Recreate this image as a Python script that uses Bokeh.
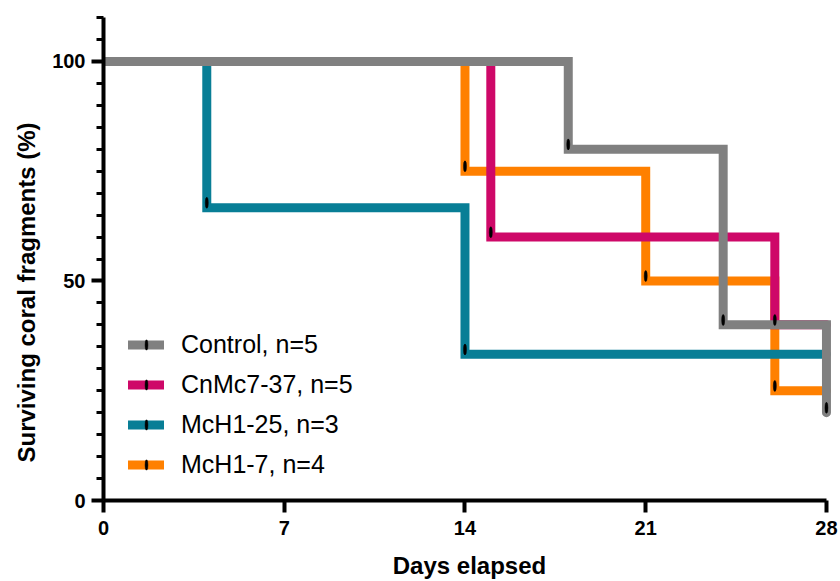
import math
from bokeh.plotting import figure
from bokeh.models import Range1d, FixedTicker, Legend, LegendItem, Title
from bokeh.embed import file_html
from bokeh.resources import INLINE

# ---- data (Kaplan-Meier steps) ----
groups = ["Control, n=5", "CnMc7-37, n=5", "McH1-25, n=3", "McH1-7, n=4"]
control_days = [0, 18, 24, 28]
control_surv = [100, 80, 40, 20]
cnmc_days = [0, 15, 26]
cnmc_surv = [100, 60, 40]
mch125_days = [0, 4, 14]
mch125_surv = [100, 66.7, 33.3]
mch17_days = [0, 14, 21, 26]
mch17_surv = [100, 75, 50, 25]
end_day = 28
x_ticks = [0, 7, 14, 21, 28]
y_ticks = [0, 50, 100]
y_minor = list(range(0, 111, 5))

colors = {
    "Control, n=5": "#808080",
    "CnMc7-37, n=5": "#CE0868",
    "McH1-25, n=3": "#087E96",
    "McH1-7, n=4": "#FF8000",
}
series = {
    "Control, n=5": (control_days, control_surv),
    "CnMc7-37, n=5": (cnmc_days, cnmc_surv),
    "McH1-25, n=3": (mch125_days, mch125_surv),
    "McH1-7, n=4": (mch17_days, mch17_surv),
}

FONT = "Liberation Sans"

p = figure(width=840, height=581, output_backend="svg", toolbar_location=None,
           x_range=Range1d(0, 28.35), y_range=Range1d(0, 110),
           min_border_left=102, min_border_right=5, min_border_top=17, min_border_bottom=81)
p.outline_line_color = None
p.xgrid.grid_line_color = None
p.ygrid.grid_line_color = None
p.background_fill_color = "white"
p.border_fill_color = "white"

draw_order = ["McH1-7, n=4", "CnMc7-37, n=5", "McH1-25, n=3", "Control, n=5"]
step_r = {}
for g in draw_order:
    d, s = series[g]
    xs = list(d)
    ys = list(s)
    if xs[-1] < end_day:
        xs.append(end_day)
        ys.append(s[-1])
    step_r[g] = p.step(xs, ys, mode="after", line_color=colors[g], line_width=9,
                       line_join="miter", line_cap="round")

# censor ticks: narrow vertical ellipses (keep their shape in the legend too)
tick_r = {}
for g in draw_order:
    d, s = series[g]
    cx = d[1:]
    cy = [v + 1.1 for v in s[1:]]
    tick_r[g] = p.ellipse(x=cx, y=cy, width=3, height=11, width_units="screen",
                          height_units="screen", fill_color="black", line_color="black",
                          line_width=0.5)

items = [LegendItem(label=g, renderers=[step_r[g], tick_r[g]]) for g in groups]
legend = Legend(items=items, location=(25, 21), glyph_width=36, glyph_height=13,
                spacing=11, padding=0, margin=0, label_standoff=17,
                label_text_font=FONT, label_text_font_size="25px",
                label_text_color="black", border_line_color=None,
                background_fill_alpha=0)
p.add_layout(legend)

for ax in (p.xaxis[0], p.yaxis[0]):
    ax.axis_line_width = 4
    ax.axis_line_color = "black"
    ax.major_tick_line_width = 4
    ax.major_tick_line_color = "black"
    ax.major_tick_out = 12
    ax.major_tick_in = 0
    ax.major_label_text_font = FONT
    ax.major_label_text_font_size = "20px"
    ax.major_label_text_font_style = "bold"
    ax.major_label_text_color = "black"

p.xaxis.ticker = FixedTicker(ticks=x_ticks)
p.xaxis.bounds = (0, 28)
p.xaxis.minor_tick_line_color = None
p.xaxis.major_label_standoff = 8
p.xaxis.axis_label = "Days elapsed"
p.xaxis.axis_label_text_font = FONT
p.xaxis.axis_label_text_font_size = "24px"
p.xaxis.axis_label_text_font_style = "bold"
p.xaxis.axis_label_text_color = "black"
p.xaxis.axis_label_standoff = 14

p.yaxis.ticker = FixedTicker(ticks=y_ticks, minor_ticks=y_minor)
p.yaxis.bounds = (0, 110)
p.yaxis.minor_tick_line_width = 3
p.yaxis.minor_tick_line_color = "black"
p.yaxis.minor_tick_out = 7
p.yaxis.minor_tick_in = 0
p.yaxis.major_label_standoff = 6

ytitle = Title(text="Surviving coral fragments (%)", align="left", offset=38,
               text_font=FONT, text_font_size="24px", text_font_style="bold",
               text_color="black", standoff=20)
p.add_layout(ytitle, "left")

open("out.html", "w").write(file_html(p, INLINE))
